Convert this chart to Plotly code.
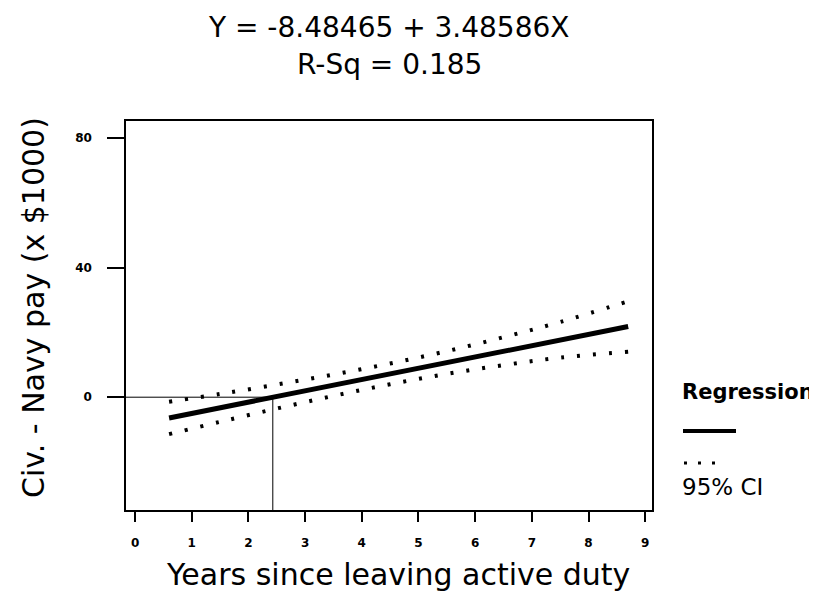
"""Regression of civilian minus Navy pay on years since leaving active duty."""

import plotly.graph_objects as go

# values
years = [0.6, 1.5, 2.5, 3.5, 4.5, 5.5, 6.5, 7.5, 8.7]
fit = [-6.4, -3.25, 0.2, 3.7, 7.2, 10.7, 14.2, 17.7, 21.8]
ci_upper = [-1.4, 1.0, 3.9, 7.0, 10.4, 14.2, 18.5, 23.2, 29.6]
ci_lower = [-11.4, -7.6, -3.5, 0.4, 4.0, 7.2, 9.9, 12.2, 14.0]
breakeven_years = 2.43

x_ticks = [0, 1, 2, 3, 4, 5, 6, 7, 8, 9]
y_ticks = [0, 40, 80]
x_range = [-0.16, 9.12]
y_range = [-34.8, 85.2]

title_lines = ["Y = -8.48465 + 3.48586X", "R-Sq = 0.185"]
x_title = "Years since leaving active duty"
y_title = "Civ. - Navy pay (x $1000)"

FONT = "DejaVu Sans"
W, H = 817, 591
M_L, M_R, M_T, M_B = 118, 173, 113, 89
PLOT_W = W - M_L - M_R
PLOT_H = H - M_T - M_B


def px(x):
    """Pixel column -> paper x."""
    return (x - M_L) / PLOT_W


def py(y):
    """Pixel row -> paper y."""
    return (H - M_B - y) / PLOT_H


fig = go.Figure()

# break-even guide: along y = 0 then down to the axis
fig.add_trace(
    go.Scatter(
        x=[x_range[0], breakeven_years, breakeven_years],
        y=[0, 0, y_range[0]],
        mode="lines",
        line=dict(color="black", width=1),
        hoverinfo="skip",
        showlegend=False,
    )
)
for ci in (ci_upper, ci_lower):
    fig.add_trace(
        go.Scatter(
            x=years,
            y=ci,
            mode="lines",
            line=dict(color="black", width=4, dash="3px,13px", shape="spline"),
            name="95% CI",
            showlegend=False,
        )
    )
fig.add_trace(
    go.Scatter(
        x=years,
        y=fit,
        mode="lines",
        line=dict(color="black", width=5),
        name="Regression",
        showlegend=False,
    )
)

axis_common = dict(
    showline=True,
    mirror=True,
    linecolor="black",
    linewidth=1.5,
    showgrid=False,
    zeroline=False,
    automargin=False,
    ticks="outside",
    tickcolor="black",
    tickwidth=1.5,
    tickfont=dict(family=FONT, size=12, color="black", weight="bold"),
)

fig.update_layout(
    width=W,
    height=H,
    paper_bgcolor="white",
    plot_bgcolor="white",
    margin=dict(l=M_L, r=M_R, t=M_T, b=M_B),
    xaxis=dict(**axis_common, range=x_range, tickvals=x_ticks, ticklen=10,
               ticklabelstandoff=11),
    yaxis=dict(**axis_common, range=y_range, tickvals=y_ticks, ticklen=17,
               ticklabelstandoff=13),
    showlegend=False,
)

# titles as free text so their placement can follow the reference
text_font = dict(family=FONT, color="black")
fig.add_annotation(
    text=title_lines[0], xref="paper", yref="paper", x=px(381), y=py(20),
    xanchor="center", yanchor="middle", showarrow=False,
    font=dict(**text_font, size=28),
)
fig.add_annotation(
    text=title_lines[1], xref="paper", yref="paper", x=px(381), y=py(56),
    xanchor="center", yanchor="middle", showarrow=False,
    font=dict(**text_font, size=28),
)
fig.add_annotation(
    text=x_title, xref="paper", yref="paper", x=px(390), y=py(566),
    xanchor="center", yanchor="middle", showarrow=False,
    font=dict(**text_font, size=30),
)
fig.add_annotation(
    text=y_title, xref="paper", yref="paper", x=px(25), y=py(300),
    xanchor="center", yanchor="middle", showarrow=False, textangle=-90,
    font=dict(**text_font, size=30),
)

# hand-drawn style legend at the right of the plot
fig.add_annotation(
    text="<b>Regression</b>", xref="paper", yref="paper", x=px(672), y=py(384),
    xanchor="left", yanchor="middle", showarrow=False,
    font=dict(**text_font, size=21),
)
fig.add_shape(
    type="line", xref="paper", yref="paper",
    x0=px(675), x1=px(728), y0=py(423), y1=py(423),
    line=dict(color="black", width=4),
)
fig.add_shape(
    type="line", xref="paper", yref="paper",
    x0=px(676), x1=px(716), y0=py(455), y1=py(455),
    line=dict(color="black", width=3, dash="3px,11px"),
)
fig.add_annotation(
    text="95% CI", xref="paper", yref="paper", x=px(672), y=py(479),
    xanchor="left", yanchor="middle", showarrow=False,
    font=dict(**text_font, size=23),
)

fig.write_html("out.html")
